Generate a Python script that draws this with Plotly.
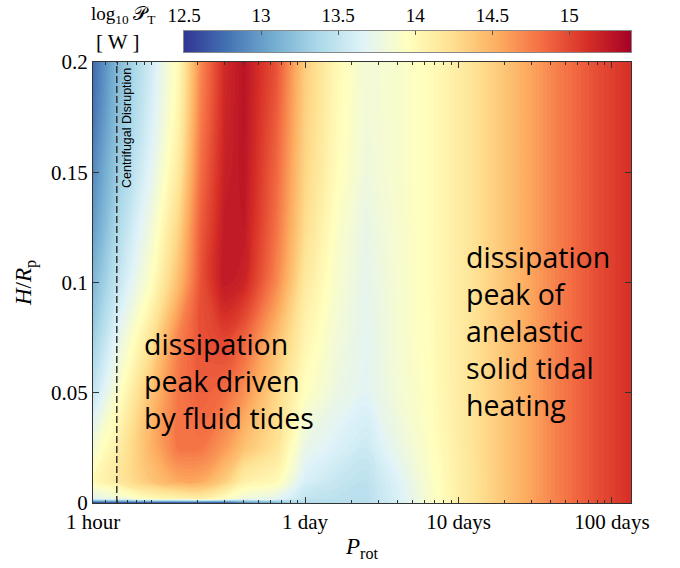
import math
import plotly.graph_objects as go

# ---------------- data ----------------
# rotation period grid (days) and scale-height grid (H/Rp)
P_ROT_DAYS = [1/24, 0.06, 0.1, 0.15, 0.21, 0.3, 0.4, 0.65, 1, 1.6, 2.5, 4, 6.5, 10, 20, 40, 80, 133]
H_OVER_RP = [0, 0.002, 0.01, 0.025, 0.05, 0.075, 0.1, 0.125, 0.15, 0.175, 0.2]

# log10 tidal power [W], one row per H/Rp value (bottom to top)
LOG_PT_Y000 = [12.5, 12.5, 12.5, 12.5, 12.5, 12.55, 12.8, 13.1, 13.4, 13.42, 13.45, 13.6, 13.88, 14.1, 14.4, 14.7, 14.97, 15.12]
LOG_PT_Y002 = [13.7, 13.8, 14.0, 14.05, 14.1, 13.95, 13.8, 13.7, 13.5, 13.47, 13.45, 13.62, 13.88, 14.1, 14.4, 14.7, 14.97, 15.12]
LOG_PT_Y010 = [14.0, 14.15, 14.4, 14.55, 14.55, 14.35, 14.1, 14.0, 13.62, 13.52, 13.47, 13.65, 13.9, 14.1, 14.4, 14.7, 14.97, 15.12]
LOG_PT_Y025 = [13.85, 14.1, 14.5, 14.78, 14.78, 14.62, 14.42, 14.2, 13.75, 13.63, 13.55, 13.75, 13.93, 14.11, 14.4, 14.7, 14.97, 15.12]
LOG_PT_Y050 = [13.5, 13.9, 14.42, 14.78, 14.88, 14.82, 14.66, 14.3, 13.95, 13.77, 13.68, 13.83, 13.96, 14.12, 14.4, 14.7, 14.97, 15.12]
LOG_PT_Y075 = [13.3, 13.7, 14.2, 14.72, 14.95, 15.02, 14.88, 14.45, 14.05, 13.83, 13.7, 13.85, 13.97, 14.12, 14.4, 14.7, 14.97, 15.12]
LOG_PT_Y100 = [13.15, 13.5, 13.95, 14.45, 14.95, 15.25, 15.18, 14.7, 14.15, 13.88, 13.72, 13.86, 13.98, 14.12, 14.4, 14.7, 14.97, 15.12]
LOG_PT_Y125 = [13.0, 13.38, 13.82, 14.3, 14.9, 15.24, 15.25, 14.8, 14.25, 13.92, 13.75, 13.87, 13.98, 14.12, 14.4, 14.7, 14.97, 15.12]
LOG_PT_Y150 = [12.9, 13.28, 13.7, 14.15, 14.82, 15.2, 15.27, 14.85, 14.3, 13.98, 13.8, 13.88, 13.98, 14.12, 14.4, 14.7, 14.97, 15.12]
LOG_PT_Y175 = [12.8, 13.2, 13.62, 14.05, 14.75, 15.17, 15.28, 14.9, 14.33, 14.0, 13.82, 13.88, 13.98, 14.12, 14.4, 14.7, 14.97, 15.12]
LOG_PT_Y200 = [12.75, 13.15, 13.58, 14.0, 14.7, 15.15, 15.28, 14.95, 14.35, 14.02, 13.83, 13.88, 13.98, 14.12, 14.4, 14.7, 14.97, 15.12]

LOG_PT = [LOG_PT_Y000, LOG_PT_Y002, LOG_PT_Y010, LOG_PT_Y025, LOG_PT_Y050, LOG_PT_Y075,
          LOG_PT_Y100, LOG_PT_Y125, LOG_PT_Y150, LOG_PT_Y175, LOG_PT_Y200]

CENTRIFUGAL_P_DAYS = 0.0594

X_TICKS = [1/24, 1, 10, 100]
X_TICK_TEXT = ["1 hour", "1 day", "10 days", "100 days"]
X_MINOR_TICKS = [0.05, 0.06, 0.07, 0.08, 0.09, 0.1, 0.2, 0.3, 0.4, 0.5, 0.6, 0.7, 0.8, 0.9,
                 2, 3, 4, 5, 6, 7, 8, 9, 20, 30, 40, 50, 60, 70, 80, 90]
Y_TICKS = [0, 0.05, 0.1, 0.15, 0.2]
Y_TICK_TEXT = ["0", "0.05", "0.1", "0.15", "0.2"]

CB_MIN, CB_MAX = 12.5, 15.4
CB_STOPS = [12.5, 13, 13.5, 14, 14.5, 15, 15.4]
CB_TICKS = [12.5, 13, 13.5, 14, 14.5, 15]
CB_TICK_TEXT = ["12.5", "13", "13.5", "14", "14.5", "15"]

SERIF = "Liberation Serif"
AXC = "#333333"

W, H = 680, 568
PLOT_L, PLOT_R, PLOT_T, PLOT_B = 93, 631, 31, 503  # plot area in pixels (incl. colour bar)


def paper_x(px):
    return (px - PLOT_L) / (PLOT_R - PLOT_L)


def paper_y(py):
    return (PLOT_B - py) / (PLOT_B - PLOT_T)


fig = go.Figure()

fig.add_trace(go.Contour(
    x=P_ROT_DAYS, y=H_OVER_RP, z=LOG_PT,
    colorscale="RdYlBu", reversescale=True,
    zauto=False, zmin=CB_MIN, zmax=CB_MAX,
    autocontour=False,
    contours=dict(start=CB_MIN, end=CB_MAX, size=0.025, coloring="fill", showlines=False),
    line=dict(width=0),
    showscale=False, hoverinfo="skip",
    xaxis="x", yaxis="y",
))

fig.add_trace(go.Scatter(
    x=[CENTRIFUGAL_P_DAYS, CENTRIFUGAL_P_DAYS], y=[H_OVER_RP[0], H_OVER_RP[-1]],
    mode="lines", line=dict(color="#333333", width=1.5, dash="7px,3px"),
    showlegend=False, hoverinfo="skip", xaxis="x", yaxis="y",
))

# colour bar drawn as a heatmap on its own axes (labels on top)
fig.add_trace(go.Heatmap(
    x=CB_STOPS, y=[0, 1], z=[CB_STOPS, CB_STOPS],
    colorscale="RdYlBu", reversescale=True, zmin=CB_MIN, zmax=CB_MAX,
    zsmooth="best", showscale=False, hoverinfo="skip",
    xaxis="x2", yaxis="y2",
))

tickfont = dict(family=SERIF, size=21, color="black")

fig.update_layout(
    width=W, height=H,
    margin=dict(l=PLOT_L, r=W - PLOT_R, t=PLOT_T, b=H - PLOT_B),
    paper_bgcolor="white", plot_bgcolor="white",
    showlegend=False,
    xaxis=dict(
        type="log", domain=[0, 1], anchor="y", automargin=False,
        range=[math.log10(1/24) - 0.001, math.log10(133)],
        tickmode="array", tickvals=X_TICKS, ticktext=X_TICK_TEXT,
        ticks="inside", ticklen=6, tickwidth=1, tickcolor=AXC,
        minor=dict(tickmode="array", tickvals=X_MINOR_TICKS, ticks="inside", ticklen=3,
                   tickwidth=1, tickcolor=AXC, showgrid=False),
        showline=True, linecolor=AXC, linewidth=1, mirror="ticks",
        showgrid=False, zeroline=False, tickfont=tickfont,
        title=dict(text="<i>P</i><sub>rot</sub>", font=dict(family=SERIF, size=23, color="black"), standoff=4),
    ),
    yaxis=dict(
        domain=[0, paper_y(62)], anchor="x", range=[0, 0.2], automargin=False,
        tickmode="array", tickvals=Y_TICKS, ticktext=Y_TICK_TEXT,
        ticks="inside", ticklen=6, tickwidth=1, tickcolor=AXC,
        showline=True, linecolor=AXC, linewidth=1, mirror="ticks",
        showgrid=False, zeroline=False, tickfont=tickfont,
        title=dict(text="<i>H</i>/<i>R</i><sub>p</sub>", font=dict(family=SERIF, size=23, color="black"), standoff=12),
    ),
    xaxis2=dict(
        domain=[paper_x(184), 1], anchor="y2", range=[CB_MIN, CB_MAX], side="top",
        automargin=False,
        tickmode="array", tickvals=CB_TICKS, ticktext=CB_TICK_TEXT,
        ticks="inside", ticklen=4, tickwidth=1, tickcolor="#555555",
        showline=True, linecolor="#888888", linewidth=1, mirror=True,
        showgrid=False, zeroline=False, tickfont=dict(family=SERIF, size=19, color="black"),
    ),
    yaxis2=dict(
        domain=[paper_y(52), 1], anchor="x2", range=[0, 1], automargin=False,
        showticklabels=False, ticks="",
        showline=True, linecolor="#888888", linewidth=1, mirror=True,
        showgrid=False, zeroline=False,
    ),
)

bigfont = dict(family="Open Sans", size=28.5, color="black")
fig.add_annotation(
    x=math.log10(CENTRIFUGAL_P_DAYS), y=0.170, xref="x", yref="y",
    text="Centrifugal Disruption", textangle=-90, showarrow=False,
    xanchor="center", yanchor="middle", xshift=10,
    font=dict(family="Liberation Sans", size=12.5, color="black"),
)
fig.add_annotation(
    x=math.log10(0.0865), y=0.0553, xref="x", yref="y",
    text="dissipation<br>peak driven<br>by fluid tides", align="left",
    showarrow=False, xanchor="left", yanchor="middle", font=bigfont,
)
fig.add_annotation(
    x=math.log10(10.8), y=0.078, xref="x", yref="y",
    text="dissipation<br>peak of<br>anelastic<br>solid tidal<br>heating", align="left",
    showarrow=False, xanchor="left", yanchor="middle", font=bigfont,
)
fig.add_annotation(
    x=paper_x(157), y=paper_y(15), xref="paper", yref="paper",
    text="log<sub>10</sub> \U0001D4AB<sub>T</sub>", showarrow=False,
    xanchor="right", yanchor="middle", font=dict(family=SERIF, size=19, color="black"),
)
fig.add_annotation(
    x=paper_x(118), y=paper_y(42), xref="paper", yref="paper",
    text="[ W ]", showarrow=False,
    xanchor="center", yanchor="middle", font=dict(family=SERIF, size=21, color="black"),
)

# remove the browser's default 8 px body margin so the figure sits at the window corner
fig.write_html("out.html", config={"displayModeBar": False},
               post_script="document.body.style.margin='0px';")
